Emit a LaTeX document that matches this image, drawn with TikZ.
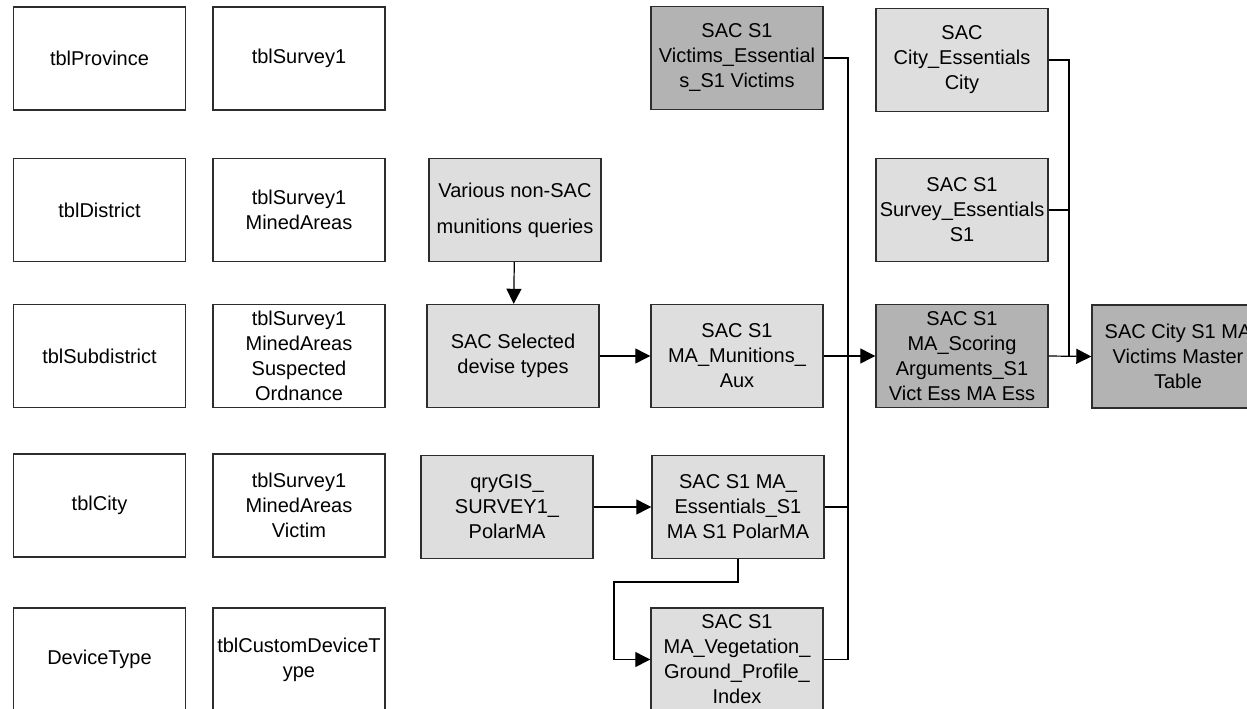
\documentclass[tikz,border=0pt]{standalone}
\usepackage{fontspec}
\setmainfont{Liberation Sans}
\usepackage{tikz}
\usetikzlibrary{arrows.meta,positioning,calc}
\definecolor{boxline}{RGB}{45,45,45}
\definecolor{qrylight}{RGB}{222,222,222}
\definecolor{qrydark}{RGB}{179,179,179}

\begin{document}
\begin{tikzpicture}[
      x=1pt,y=-1pt,
      tbl/.style={rectangle,draw=boxline,line width=1.4pt,fill=white,
                  minimum width=172pt,minimum height=103pt,inner sep=0pt,
                  font=\fontsize{20}{25}\selectfont,align=center},
      qry/.style={tbl,fill=qrylight},
      key/.style={tbl,fill=qrydark},
      link/.style={line width=1.2pt,color=black},
      arr/.style={link,-{Triangle[length=15pt,width=15pt]}}
    ]
      \useasboundingbox (0,0) rectangle (1247,709);

      % tables
      \node[tbl] (prov) at (99.5,58.5) {tblProvince};
      \node[tbl] (dist) at (99.5,210) {tblDistrict};
      \node[tbl] (subd) at (99.5,356) {tblSubdistrict};
      \node[tbl] (city) at (99.5,505.5) {tblCity};
      \node[tbl] (devt) at (99.5,659.5) {DeviceType};
      \node[tbl] (surv) at (299,58.5) {tblSurvey1};
      \node[tbl] (mined) at (299,210) {tblSurvey1\\MinedAreas};
      \node[tbl] (ordn) at (299,356) {tblSurvey1\\MinedAreas\\Suspected\\Ordnance};
      \node[tbl] (vict) at (299,505.5) {tblSurvey1\\MinedAreas\\Victim};
      \node[tbl] (cdev) at (299,659.5) {tblCustomDeviceT\\ype};

      % queries
      \node[qry,font=\fontsize{20}{36}\selectfont] (nonsac) at (515,210) {Various non-SAC\\munitions queries};
      \node[qry] (seldev) at (513,356) {SAC Selected\\devise types};
      \node[qry] (polar) at (507,507) {qryGIS\_\\SURVEY1\_\\PolarMA};
      \node[key] (victess) at (737,58) {SAC S1\\Victims\_Essential\\s\_S1 Victims};
      \node[qry] (munaux) at (737,356) {SAC S1\\MA\_Munitions\_\\Aux};
      \node[qry] (maess) at (738,507) {SAC S1 MA\_\\Essentials\_S1\\MA S1 PolarMA};
      \node[qry] (veg) at (737,659.5) {SAC S1\\MA\_Vegetation\_\\Ground\_Profile\_\\Index};
      \node[qry] (cityess) at (962,60) {SAC\\City\_Essentials\\City};
      \node[qry] (survess) at (962,210) {SAC S1\\Survey\_Essentials\\S1};
      \node[key] (score) at (962,356) {SAC S1\\MA\_Scoring\\Arguments\_S1\\Vict Ess MA Ess};
      \node[key] (master) at (1178,356.5) {SAC City S1 MA\\Victims Master\\Table};

      \coordinate (joinA) at (848,0);
      \coordinate (joinB) at (1069,0);
      \coordinate (bend) at (614,582);

      \draw[arr] (nonsac)--(seldev);
      \draw[arr] (seldev)--(munaux);
      \draw[arr] (polar.east)--(polar.east -| maess.west);
      \draw[arr] (maess.south) |- (bend) |- (veg.west);
      \draw[link] (victess.east) -| (joinA |- veg.east) -- (veg.east);
      \draw[link] (munaux.east) -- (munaux.east -| joinA);
      \draw[link] (maess.east) -- (maess.east -| joinA);
      \draw[arr] (munaux.east -| joinA) -- (score.west);
      \draw[link] (cityess.east) -| (joinB |- score.east);
      \draw[link] (survess.east) -- (survess.east -| joinB);
      \draw[arr] (score.east) -- (master.west);
    \end{tikzpicture}
\end{document}
